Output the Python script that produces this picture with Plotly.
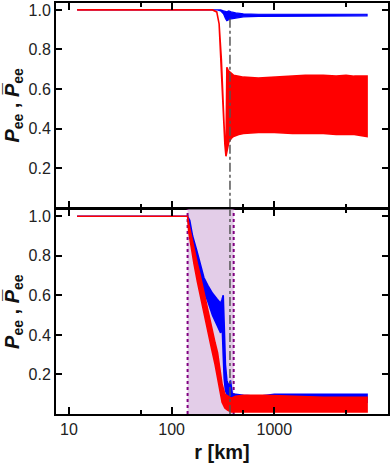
import plotly.graph_objects as go
from plotly.subplots import make_subplots

# --- data (r in km) ----------------------------------------------------------
# top panel: envelopes of the rapidly oscillating curves
r_top_blue = [12, 280, 300, 320, 335, 345, 360, 380, 420, 500, 700, 1000, 2000, 4000, 8000]
blue_top_hi = [1.0, 1.0, 1.0, 0.995, 0.99, 0.99, 0.995, 0.99, 0.985, 0.98, 0.978, 0.978, 0.98, 0.98, 0.978]
blue_top_lo = [1.0, 1.0, 0.995, 0.98, 0.955, 0.945, 0.95, 0.955, 0.96, 0.965, 0.967, 0.968, 0.97, 0.97, 0.97]

r_top_red = [12, 250, 275, 290, 305, 318, 330, 338, 345, 352, 360, 380, 400, 450, 500,
             700, 1000, 1500, 2000, 3000, 4000, 5000, 6000, 8000]
red_top_hi = [1.0, 1.0, 0.99, 0.93, 0.75, 0.5, 0.32, 0.27, 0.71, 0.70, 0.69, 0.68, 0.67, 0.665, 0.66,
              0.655, 0.66, 0.665, 0.67, 0.67, 0.665, 0.67, 0.665, 0.665]
red_top_lo = [1.0, 1.0, 0.99, 0.93, 0.75, 0.5, 0.32, 0.26, 0.27, 0.30, 0.33, 0.35, 0.36, 0.37, 0.375,
              0.38, 0.38, 0.375, 0.375, 0.375, 0.37, 0.37, 0.37, 0.36]

# bottom panel
r_bot_blue = [12, 143, 150, 160, 175, 190, 206, 225, 250, 278, 300, 310, 318, 325, 334, 345,
              360, 374, 390, 420, 500, 700, 1000, 2000, 4000, 8000]
blue_bot_hi = [1.0, 1.0, 0.98, 0.9, 0.83, 0.76, 0.69, 0.65, 0.61, 0.58, 0.56, 0.58, 0.60, 0.45, 0.25, 0.17,
               0.14, 0.17, 0.1, 0.1, 0.095, 0.09, 0.1, 0.1, 0.1, 0.1]
blue_bot_lo = [1.0, 1.0, 0.93, 0.85, 0.77, 0.70, 0.62, 0.57, 0.50, 0.45, 0.41, 0.46, 0.30, 0.18, 0.12, 0.10,
               0.09, 0.08, 0.06, 0.06, 0.06, 0.06, 0.06, 0.06, 0.06, 0.06]

r_bot_red = [12, 143, 147, 155, 165, 178, 190, 205, 225, 245, 265, 280, 295, 310, 330, 350,
             380, 420, 500, 800, 1500, 3000, 8000]
red_bot_hi = [1.0, 1.0, 0.96, 0.9, 0.84, 0.76, 0.7, 0.62, 0.52, 0.44, 0.36, 0.31, 0.22, 0.15, 0.10, 0.09,
              0.08, 0.09, 0.095, 0.095, 0.09, 0.085, 0.085]
red_bot_lo = [1.0, 1.0, 0.92, 0.84, 0.76, 0.67, 0.6, 0.51, 0.42, 0.33, 0.25, 0.2, 0.12, 0.06, 0.03, 0.02,
              0.01, 0.01, 0.01, 0.01, 0.01, 0.01, 0.01]

r_marker = 370            # dash-dot reference radius
r_window = [143, 402]     # shaded window in the lower panel
y_lim = [0.0, 1.035]

x_ticks = [10, 100, 1000]
x_minor = [50, 500, 5000]
y_ticks = [0.2, 0.4, 0.6, 0.8, 1.0]

RED = "#ff0000"
BLUE = "#0000ff"
FONT = "Liberation Sans, Arial, sans-serif"


def band(r, hi, lo, color, row, width=1.6):
    fig.add_trace(go.Scatter(
        x=r + r[::-1], y=hi + lo[::-1], fill="toself", fillcolor=color,
        mode="lines", line=dict(color=color, width=width), hoverinfo="skip",
    ), row=row, col=1)


fig = make_subplots(rows=2, cols=1, shared_xaxes=True, vertical_spacing=0.004)

# shaded window + its dotted edges (lower panel)
fig.add_trace(go.Scatter(
    x=[r_window[0], r_window[1], r_window[1], r_window[0]],
    y=[y_lim[0], y_lim[0], y_lim[1], y_lim[1]],
    fill="toself", fillcolor="#e3cde8", mode="lines", line=dict(width=0), hoverinfo="skip",
), row=2, col=1)
for rw in r_window:
    fig.add_trace(go.Scatter(x=[rw, rw], y=y_lim, mode="lines",
                             line=dict(color="#800080", width=2, dash="dot")), row=2, col=1)

band(r_top_blue, blue_top_hi, blue_top_lo, BLUE, 1, 1.2)
band(r_top_red, red_top_hi, red_top_lo, RED, 1)
band(r_bot_blue, blue_bot_hi, blue_bot_lo, BLUE, 2)
band(r_bot_red, red_bot_hi, red_bot_lo, RED, 2)

fig.add_trace(go.Scatter(x=[r_marker, r_marker], y=[y_lim[0], 0.965], mode="lines",
                         line=dict(color="#555555", width=1.5, dash="dashdot")), row=1, col=1)
fig.add_trace(go.Scatter(x=[r_marker, r_marker], y=y_lim, mode="lines",
                         line=dict(color="#555555", width=1.5, dash="dashdot")), row=2, col=1)

axis_common = dict(showline=True, linecolor="black", linewidth=2, mirror="ticks",
                   ticks="inside", tickcolor="black", tickwidth=2, automargin=False,
                   tickfont=dict(family=FONT, size=16, color="#222"), showgrid=False, zeroline=False)

fig.update_xaxes(type="log", range=[0.874, 4.107], tickvals=x_ticks, ticklen=7,
                 minor=dict(tickvals=x_minor, ticklen=4, ticks="inside", tickcolor="black", tickwidth=2),
                 **axis_common)
fig.update_xaxes(showticklabels=False, row=1, col=1)
fig.update_xaxes(title=dict(text="<b>r [km]</b>", font=dict(family=FONT, size=20, color="#111"),
                            standoff=8), row=2, col=1)

ytitle = "<b><i>P</i><sub>ee</sub> , <i>P\u0305</i><sub>ee</sub></b>"
fig.update_yaxes(range=y_lim, tickvals=y_ticks, tickformat=".1f", ticklen=6,
                 title=dict(text=ytitle, font=dict(family=FONT, size=20, color="#111"), standoff=4),
                 **axis_common)

fig.update_layout(
    width=390, height=473, showlegend=False,
    paper_bgcolor="white", plot_bgcolor="white",
    margin=dict(l=56, r=2, t=3, b=59),
)

# the page's default body margin would shift the 390x473 figure off the window
fig.write_html("out.html", config={"displayModeBar": False},
               post_script="document.body.style.margin='0';")
